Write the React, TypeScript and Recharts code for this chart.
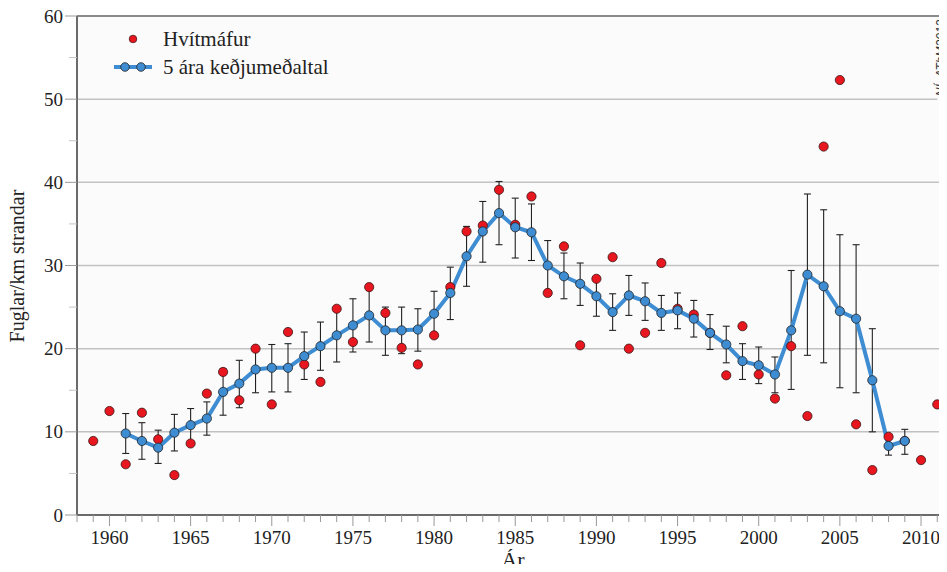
import React from "react";
import {
  ComposedChart,
  Line,
  Scatter,
  XAxis,
  YAxis,
  ErrorBar,
  ReferenceLine,
  ReferenceArea,
  Legend,
  Label,
} from "recharts";

// yearly counts (Hvítmáfur), birds per km of shore
const obsYears = [
  1959, 1960, 1961, 1962, 1963, 1964, 1965, 1966, 1967, 1968, 1969, 1970,
  1971, 1972, 1973, 1974, 1975, 1976, 1977, 1978, 1979, 1980, 1981, 1982,
  1983, 1984, 1985, 1986, 1987, 1988, 1989, 1990, 1991, 1992, 1993, 1994,
  1995, 1996, 1997, 1998, 1999, 2000, 2001, 2002, 2003, 2004, 2005, 2006,
  2007, 2008, 2009, 2010, 2011,
];
const obsValues = [
  8.9, 12.5, 6.1, 12.3, 9.1, 4.8, 8.6, 14.6, 17.2, 13.8, 20.0, 13.3,
  22.0, 18.1, 16.0, 24.8, 20.8, 27.4, 24.3, 20.1, 18.1, 21.6, 27.4, 34.1,
  34.8, 39.1, 34.9, 38.3, 26.7, 32.3, 20.4, 28.4, 31.0, 20.0, 21.9, 30.3,
  24.8, 24.1, 21.9, 16.8, 22.7, 16.9, 14.0, 20.3, 11.9, 44.3, 52.3, 10.9,
  5.4, 9.4, 8.9, 6.6, 13.3,
];

// 5 year running mean with its lower / upper bar ends
const avgYears = [
  1961, 1962, 1963, 1964, 1965, 1966, 1967, 1968, 1969, 1970, 1971, 1972,
  1973, 1974, 1975, 1976, 1977, 1978, 1979, 1980, 1981, 1982, 1983, 1984,
  1985, 1986, 1987, 1988, 1989, 1990, 1991, 1992, 1993, 1994, 1995, 1996,
  1997, 1998, 1999, 2000, 2001, 2002, 2003, 2004, 2005, 2006, 2007, 2008,
  2009,
];
const avgValues = [
  9.8, 8.9, 8.1, 9.9, 10.8, 11.6, 14.8, 15.8, 17.5, 17.7, 17.7, 19.1,
  20.3, 21.6, 22.8, 24.0, 22.2, 22.2, 22.3, 24.2, 26.7, 31.1, 34.1, 36.3,
  34.6, 34.0, 30.0, 28.7, 27.8, 26.3, 24.4, 26.4, 25.7, 24.3, 24.6, 23.6,
  21.9, 20.5, 18.5, 18.0, 16.9, 22.2, 28.9, 27.5, 24.5, 23.6, 16.2, 8.3,
  8.9,
];
const avgLow = [
  7.4, 6.7, 6.2, 7.7, 8.8, 9.6, 12.0, 12.9, 14.7, 14.8, 14.8, 16.3,
  17.4, 18.4, 19.6, 20.8, 19.2, 19.4, 19.7, 21.5, 23.5, 27.5, 30.4, 32.5,
  30.9, 30.6, 27.0, 26.0, 25.2, 23.9, 22.2, 24.0, 23.4, 22.2, 22.4, 21.4,
  19.9, 18.3, 16.3, 15.8, 14.7, 15.1, 19.2, 18.3, 15.3, 14.7, 10.0, 7.2,
  7.3,
];
const avgHigh = [
  12.2, 11.1, 10.2, 12.1, 12.8, 13.6, 17.6, 18.6, 20.3, 20.5, 20.6, 22.0,
  23.2, 24.8, 26.0, 27.3, 25.0, 25.0, 24.8, 26.9, 29.8, 34.7, 37.7, 40.1,
  38.1, 37.4, 33.0, 31.5, 30.3, 28.6, 26.6, 28.8, 27.9, 26.4, 26.7, 25.8,
  24.1, 22.7, 20.6, 20.2, 19.0, 29.4, 38.6, 36.7, 33.7, 32.5, 22.4, 9.4,
  10.3,
];

const xTicks = [
  1958, 1959, 1960, 1961, 1962, 1963, 1964, 1965, 1966, 1967, 1968, 1969,
  1970, 1971, 1972, 1973, 1974, 1975, 1976, 1977, 1978, 1979, 1980, 1981,
  1982, 1983, 1984, 1985, 1986, 1987, 1988, 1989, 1990, 1991, 1992, 1993,
  1994, 1995, 1996, 1997, 1998, 1999, 2000, 2001, 2002, 2003, 2004, 2005,
  2006, 2007, 2008, 2009, 2010, 2011,
];
const yTicks = [0, 5, 10, 15, 20, 25, 30, 35, 40, 45, 50, 55, 60];
const gridLines = [10, 20, 30, 40];

const obsRows = obsYears.map((year, i) => ({ year, obs: obsValues[i] }));
const avgRows = avgYears.map((year, i) => ({
  year,
  avg: avgValues[i],
  err: [avgValues[i] - avgLow[i], avgHigh[i] - avgValues[i]],
}));

const FONT = "Liberation Serif";
const RED = "#e8161f";
const BLUE = "#3e8dd3";
const serif = { fontFamily: FONT };

const XTick = ({ x, y, payload }: any) => {
  const major = payload.value % 5 === 0;
  return (
    <g>
      <line x1={x} x2={x} y1={y} y2={y + (major ? 11 : 7)} stroke="#999" strokeWidth={1} />
      {major && (
        <text x={x} y={y + 29} textAnchor="middle" fontSize={19} style={serif} fill="#222">
          {payload.value}
        </text>
      )}
    </g>
  );
};

const YTick = ({ x, y, payload }: any) => {
  const major = payload.value % 10 === 0;
  return (
    <g>
      <line x1={x - (major ? 12 : 8)} x2={x} y1={y} y2={y} stroke={major ? "#999" : "#c4c4c4"} strokeWidth={1} />
      {major && (
        <text x={x - 14} y={y + 6.5} textAnchor="end" fontSize={19} style={serif} fill="#222">
          {payload.value}
        </text>
      )}
    </g>
  );
};

const RedDot = (p: any) => (
  <circle cx={p.cx} cy={p.cy} r={4.6} fill={RED} stroke="#3a1515" strokeWidth={0.8} />
);

const LegendBox = () => (
  <svg width={280} height={62}>
    <circle cx={33} cy={19} r={3.8} fill={RED} stroke="#3a1515" strokeWidth={0.7} />
    <text x={63} y={26} fontSize={21} style={serif} fill="#222">Hvítmáfur</text>
    <line x1={14} x2={52} y1={47} y2={47} stroke={BLUE} strokeWidth={4} />
    <circle cx={25} cy={47} r={4.3} fill={BLUE} stroke="#222" strokeWidth={0.8} />
    <circle cx={41} cy={47} r={4.3} fill={BLUE} stroke="#222" strokeWidth={0.8} />
    <text x={63} y={54} fontSize={21} style={serif} fill="#222">5 ára keðjumeðaltal</text>
  </svg>
);

export default function App() {
  return (
    <div style={{ margin: -8, width: 947, height: 572, background: "#fff", overflow: "hidden" }}>
      <ComposedChart width={947} height={572} margin={{ top: 16, right: 0, bottom: 0, left: 0 }}>
        <ReferenceArea x1={1958} x2={2011.6} y1={0} y2={60} fill="#fbfbfb" fillOpacity={1} stroke="none" />
        {gridLines.map((v) => (
          <ReferenceLine key={v} y={v} stroke="#c2c2c2" strokeWidth={1.5} />
        ))}
        <ReferenceLine
          segment={[{ x: 1958, y: 50 }, { x: 2011, y: 50 }]}
          stroke="#c2c2c2"
          strokeWidth={1.5}
        />
        <ReferenceLine y={60} stroke="#8a8a8a" strokeWidth={2} />
        <XAxis
          type="number"
          dataKey="year"
          domain={[1958, 2011.6]}
          allowDataOverflow
          ticks={xTicks}
          interval={0}
          height={57}
          tickSize={0}
          tickMargin={0}
          tick={<XTick />}
          axisLine={{ stroke: "#6b6b6b", strokeWidth: 2 }}
        >
          <Label
            content={() => (
              <text x={513} y={567} textAnchor="middle" fontSize={22} style={serif} fill="#222">
                Ár
              </text>
            )}
          />
        </XAxis>
        <YAxis
          type="number"
          domain={[0, 60]}
          ticks={yTicks}
          interval={0}
          width={77}
          tickSize={0}
          tickMargin={0}
          tick={<YTick />}
          axisLine={{ stroke: "#6b6b6b", strokeWidth: 2 }}
        >
          <Label
            content={() => (
              <g>
                <text
                  x={24}
                  y={266}
                  transform="rotate(-90 24 266)"
                  textAnchor="middle"
                  fontSize={20}
                  style={serif}
                  fill="#222"
                >
                  Fuglar/km strandar
                </text>
                <text
                  x={945}
                  y={58}
                  transform="rotate(-90 945 58)"
                  textAnchor="middle"
                  fontSize={12}
                  fontStyle="italic"
                  style={{ fontFamily: "Liberation Sans" }}
                  fill="#333"
                >
                  NÍ_AThM2012
                </text>
              </g>
            )}
          />
        </YAxis>
        <Line
          data={avgRows}
          dataKey="avg"
          stroke={BLUE}
          strokeWidth={4}
          dot={{ r: 4.6, fill: BLUE, stroke: "#222", strokeWidth: 0.8 }}
          activeDot={false}
          isAnimationActive={false}
        >
          <ErrorBar dataKey="err" direction="y" width={3.5} stroke="#222" strokeWidth={1.1} />
        </Line>
        <Scatter data={obsRows} dataKey="obs" shape={RedDot} isAnimationActive={false} />
        <Legend
          layout="vertical"
          align="center"
          verticalAlign="middle"
          content={() => <LegendBox />}
          wrapperStyle={{ position: "absolute", left: 100, top: 20, width: 280, height: 62 }}
        />
      </ComposedChart>
    </div>
  );
}
